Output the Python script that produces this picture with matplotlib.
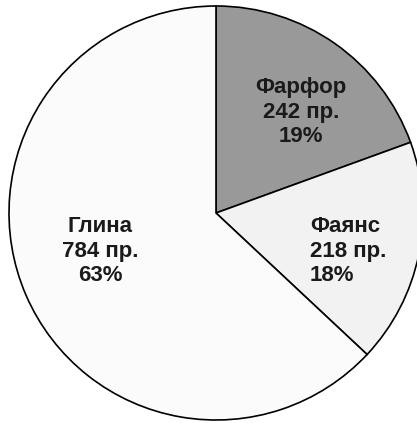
import matplotlib
matplotlib.use("Agg")
import matplotlib.pyplot as plt

categories = ["Фарфор", "Фаянс", "Глина"]
counts = [242, 218, 784]
percents = [19, 18, 63]
colors = ["#999999", "#f2f2f2", "#fbfbfb"]

fig = plt.figure(figsize=(4.17, 4.23), dpi=100)
ax = fig.add_axes([0, 0, 1, 1])

cx, cy, r = 216, 423 - 213, 207
ax.pie(counts, colors=colors, startangle=90, counterclock=False,
       center=(cx, cy), radius=r, frame=True,
       wedgeprops=dict(edgecolor="black", linewidth=1.2))
ax.set_xlim(0, 417)
ax.set_ylim(0, 423)
ax.set_aspect("equal")
ax.axis("off")

labels = [f"{c}\n{n} пр.\n{p}%" for c, n, p in zip(categories, counts, percents)]
pos = [(301, 423 - 112, "center"), (310, 423 - 251, "left"), (100, 423 - 251, "center")]
for lab, (x, y, ha) in zip(labels, pos):
    ax.text(x, y, lab, ha=ha, va="center", multialignment=ha,
            fontsize=16, fontweight="bold", family=["Liberation Sans", "DejaVu Sans"],
            color="#1a1a1a", linespacing=1.22)

fig.savefig("out.png", dpi=100)
